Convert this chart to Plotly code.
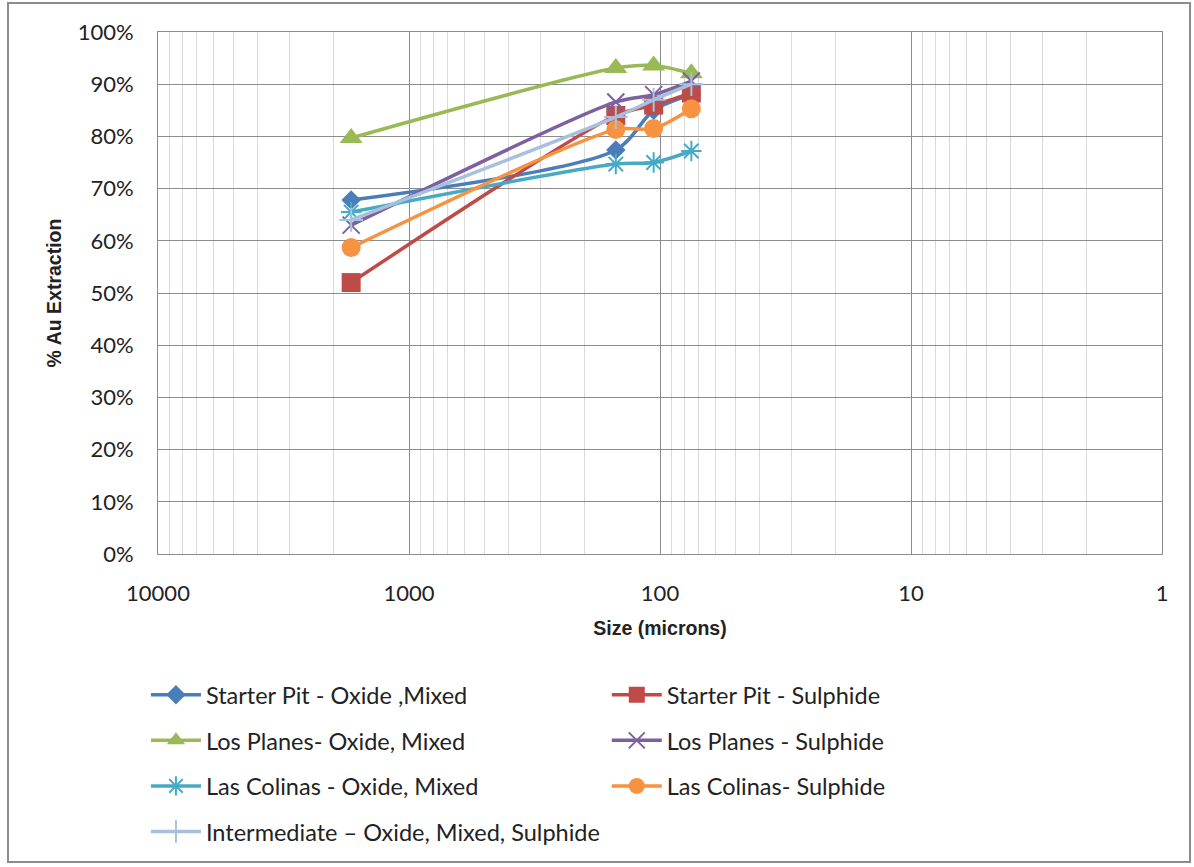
import plotly.graph_objects as go

# Grind size (microns) and % Au extraction per ore type
size_microns = [1700, 150, 106, 75]

starter_oxide = [67.8, 77.4, 85.0, 88.0]
starter_sulphide = [52.0, 84.0, 86.0, 88.3]
planes_oxide = [79.7, 93.1, 93.6, 92.1]
planes_sulphide = [63.0, 86.6, 88.0, 90.6]
colinas_oxide = [65.5, 74.7, 75.0, 77.2]
colinas_sulphide = [58.7, 81.3, 81.5, 85.3]
intermediate = [64.0, 83.7, 87.0, 90.0]

series = [
    ("Starter Pit - Oxide ,Mixed", starter_oxide, "#4A7EBB", "diamond", 15, "legend"),
    ("Starter Pit - Sulphide", starter_sulphide, "#BE4B48", "square", 19, "legend2"),
    ("Los Planes- Oxide, Mixed", planes_oxide, "#98B954", "triangle-up", 20, "legend"),
    ("Los Planes - Sulphide", planes_sulphide, "#7D60A0", "x-thin", 17, "legend2"),
    ("Las Colinas - Oxide, Mixed", colinas_oxide, "#46AAC5", "asterisk", 17, "legend"),
    ("Las Colinas- Sulphide", colinas_sulphide, "#F69240", "circle", 19, "legend2"),
    ("Intermediate \u2013 Oxide, Mixed, Sulphide", intermediate, "#A7C0DE", "cross-thin", 17, "legend"),
]

fig = go.Figure()
for i, (name, vals, color, symbol, msize, leg) in enumerate(series):
    thin = symbol in ("x-thin", "asterisk", "cross-thin")
    fig.add_trace(go.Scatter(
        x=size_microns,
        y=[v / 100 for v in vals],
        name=name,
        mode="lines+markers",
        line=dict(color=color, width=3.5, shape="spline", smoothing=0.8),
        marker=dict(symbol=symbol, size=msize, color=color,
                    line=dict(color=color, width=2 if thin else 0)),
        legend=leg,
        legendgroup=f"g{i}",
    ))

font_family = "Lato, 'Open Sans', sans-serif"
title_family = "'Liberation Sans', Arial, sans-serif"
grid_major = "#8C8C8C"
grid_minor = "#D9D9D9"

legend_common = dict(
    orientation="v",
    bgcolor="rgba(0,0,0,0)",
    font=dict(family=font_family, size=23.5, color="#222222"),
    tracegroupgap=12,
    itemwidth=50,
    yanchor="top",
    xanchor="left",
)

fig.update_layout(
    width=1194,
    height=867,
    margin=dict(l=158, r=32, t=32, b=313, autoexpand=False),
    paper_bgcolor="white",
    plot_bgcolor="white",
    font=dict(family=font_family, size=22, color="#222222"),
    showlegend=True,
    legend=dict(x=-0.012, y=-0.228, **legend_common),
    legend2=dict(x=0.447, y=-0.228, **legend_common),
    xaxis=dict(
        type="log",
        range=[4, 0],
        tickvals=[10000, 1000, 100, 10, 1],
        ticktext=["10000", "1000", "100", "10", "1"],
        showgrid=True,
        gridcolor=grid_major,
        gridwidth=1,
        minor=dict(tickvals=[m * 10 ** e for e in range(0, 4) for m in range(2, 10)],
                   showgrid=True, gridcolor=grid_minor, gridwidth=1),
        showline=True,
        linecolor=grid_major,
        linewidth=1,
        mirror=True,
        ticks="",
        ticklabelstandoff=20,
        tickfont=dict(size=22, color="#222222"),
        title=dict(text="<b>Size (microns)</b>",
                   font=dict(family=title_family, size=19.5), standoff=15),
        zeroline=False,
    ),
    yaxis=dict(
        range=[0, 1],
        dtick=0.1,
        tickformat=".0%",
        showgrid=True,
        gridcolor=grid_major,
        gridwidth=1,
        showline=True,
        linecolor=grid_major,
        linewidth=1,
        mirror=True,
        ticks="",
        ticklabelstandoff=19,
        tickfont=dict(size=22, color="#222222"),
        title=dict(text="<b>% Au Extraction</b>",
                   font=dict(family=title_family, size=19.5), standoff=10),
        zeroline=False,
    ),
    shapes=[
        dict(type="rect", xref="paper", yref="paper",
             x0=-0.1494, x1=1.0279, y0=-0.590, y1=1.0556,
             line=dict(color="#8C8C8C", width=2), fillcolor="rgba(0,0,0,0)",
             layer="below"),
    ],
)

fig.write_html("out.html")
